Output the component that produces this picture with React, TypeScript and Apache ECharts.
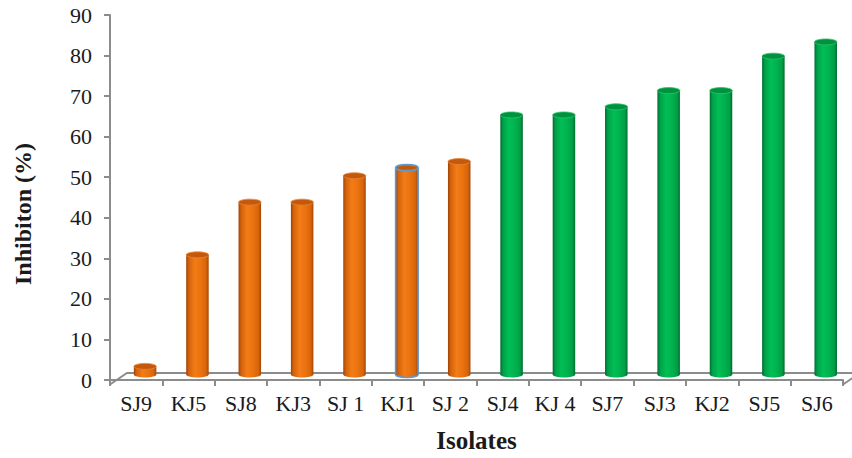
import React, { useEffect, useRef } from "react";
import * as echarts from "echarts";

const categories = ["SJ9", "KJ5", "SJ8", "KJ3", "SJ 1", "KJ1", "SJ 2", "SJ4", "KJ 4", "SJ7", "SJ3", "KJ2", "SJ5", "SJ6"];
const inhibition = [2, 29.5, 42.5, 42.5, 49, 51, 52.5, 64, 64, 66, 70, 70, 78.5, 82];
const groups = ["low", "low", "low", "low", "low", "low", "low", "high", "high", "high", "high", "high", "high", "high"];
const highlighted = "KJ1";
const yMin = 0;
const yMax = 90;
const yStep = 10;

const FONT = "'Liberation Serif', 'Times New Roman', serif";

const palette: Record<string, { body: string[]; top: string; rim: string }> = {
  low: { body: ["#9E4406", "#D4620B", "#F27C17", "#EC7410", "#D8650B", "#A04607"], top: "#C4590C", rim: "#E9863A" },
  high: { body: ["#006B2E", "#00A048", "#00BE55", "#00B450", "#009F46", "#006A2E"], top: "#00923F", rim: "#2DC46C" },
};

function grad(c: string[]) {
  return new echarts.graphic.LinearGradient(0, 0, 1, 0, [
    { offset: 0, color: c[0] },
    { offset: 0.12, color: c[1] },
    { offset: 0.38, color: c[2] },
    { offset: 0.62, color: c[3] },
    { offset: 0.88, color: c[4] },
    { offset: 1, color: c[5] },
  ]);
}

export default function App() {
  const ref = useRef<HTMLDivElement>(null);
  useEffect(() => {
    if (!ref.current) return;
    const chart = echarts.init(ref.current, undefined, { renderer: "svg" });
    const renderItem = (params: any, api: any) => {
      const i = api.value(0);
      const v = api.value(1);
      const base = api.coord([i, 0]);
      const top = api.coord([i, v]);
      const band = api.size([1, 0])[0];
      const w = band * 0.43;
      const dx = band * 0.17;
      const dy = -5.5;
      const cx = base[0] + dx;
      const yb = base[1] + dy;
      const yt = top[1] + dy;
      const ry = 3;
      const p = palette[groups[params.dataIndex]];
      const hl = categories[params.dataIndex] === highlighted;
      const blue = "#5B9BD5";
      const children: any[] = [
        {
          type: "ellipse",
          shape: { cx, cy: yb, rx: w / 2, ry },
          style: { fill: grad(p.body), stroke: hl ? blue : null, lineWidth: hl ? 1.6 : 0 },
        },
        {
          type: "rect",
          shape: { x: cx - w / 2, y: yt, width: w, height: Math.max(yb - yt, 0) },
          style: { fill: grad(p.body) },
        },
      ];
      if (hl) {
        children.push(
          { type: "line", shape: { x1: cx - w / 2, y1: yt, x2: cx - w / 2, y2: yb }, style: { stroke: blue, lineWidth: 1.6 } },
          { type: "line", shape: { x1: cx + w / 2, y1: yt, x2: cx + w / 2, y2: yb }, style: { stroke: blue, lineWidth: 1.6 } }
        );
      }
      children.push({
        type: "ellipse",
        shape: { cx, cy: yt, rx: w / 2, ry },
        style: { fill: p.top, stroke: hl ? blue : p.rim, lineWidth: hl ? 1.6 : 0.8 },
      });
      return { type: "group", children };
    };

    chart.setOption({
      animation: false,
      backgroundColor: "#ffffff",
      grid: { left: 110, right: 9, top: 15, bottom: 73 },
      xAxis: {
        type: "category",
        data: categories,
        boundaryGap: true,
        name: "Isolates",
        nameLocation: "middle",
        nameGap: 48,
        nameTextStyle: { fontFamily: FONT, fontSize: 25, fontWeight: "bold", color: "#1a1a1a" },
        axisLine: { lineStyle: { color: "#8c8c8c", width: 2 } },
        axisTick: { show: true, interval: 0, length: 6, alignWithLabel: false, lineStyle: { color: "#8c8c8c", width: 2 } },
        axisLabel: { interval: 0, margin: 12, fontFamily: FONT, fontSize: 22, color: "#1a1a1a" },
        splitLine: { show: false },
      },
      yAxis: {
        type: "value",
        min: yMin,
        max: yMax,
        interval: yStep,
        axisLine: { show: true, lineStyle: { color: "#8c8c8c", width: 2 } },
        axisTick: { show: true, length: 6, lineStyle: { color: "#8c8c8c", width: 2 } },
        axisLabel: { margin: 18, fontFamily: FONT, fontSize: 22, color: "#1a1a1a" },
        splitLine: { show: false },
      },
      graphic: [
        {
          type: "polyline",
          z: 1,
          shape: { points: [[110, 384.5], [127, 373], [870, 373]] },
          style: { stroke: "#8c8c8c", lineWidth: 2, fill: null },
        },
        {
          type: "line",
          z: 1,
          shape: { x1: 843, y1: 384.5, x2: 860, y2: 373 },
          style: { stroke: "#8c8c8c", lineWidth: 2 },
        },
        {
          type: "text",
          z: 5,
          x: 23,
          y: 214,
          rotation: Math.PI / 2,
          style: {
            text: "Inhibiton (%)",
            fontFamily: FONT,
            fontSize: 24,
            fontWeight: "bold",
            fill: "#1a1a1a",
            align: "center",
            verticalAlign: "middle",
          },
        },
      ],
      series: [
        {
          type: "custom",
          name: "Inhibition",
          renderItem,
          z: 3,
          data: inhibition.map((v, i) => [i, v]),
          encode: { x: 0, y: 1 },
        },
      ],
    });
    return () => chart.dispose();
  }, []);
  return <div ref={ref} style={{ position: "fixed", left: 0, top: 0, width: 852, height: 458 }} />;
}
